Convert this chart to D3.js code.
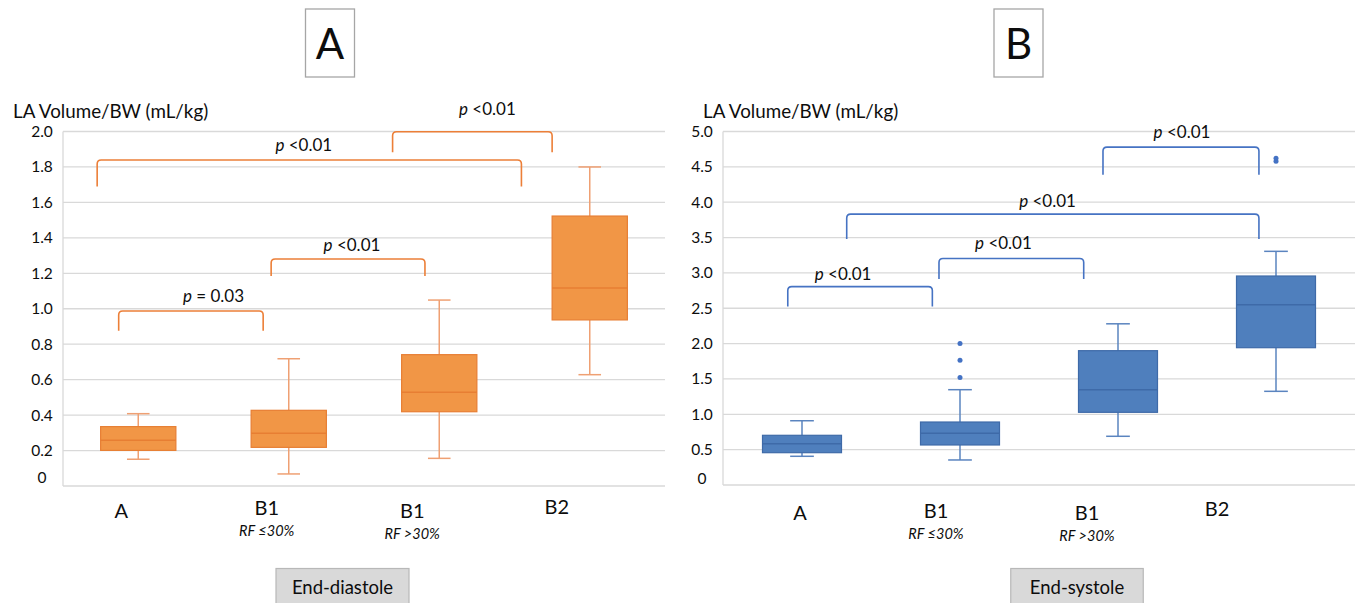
<!DOCTYPE html>
<html>
<head>
<meta charset="utf-8">
<script src="https://cdn.jsdelivr.net/npm/d3@7"></script>
<style>
  html, body { margin: 0; padding: 0; background: #fff; }
  svg { display: block; }
  text { font-family: Lato, "Open Sans", sans-serif; fill: #0d0d0d; }
</style>
</head>
<body>
<svg id="chart" width="1362" height="603"></svg>
<script>
// ---------------- DATA ----------------
const categories = ["A", "B1", "B1", "B2"];
const subLabels = ["", "RF \u226430%", "RF >30%", ""];

const diastoleTicks = [0, 0.2, 0.4, 0.6, 0.8, 1.0, 1.2, 1.4, 1.6, 1.8, 2.0];
const systoleTicks = [0, 0.5, 1.0, 1.5, 2.0, 2.5, 3.0, 3.5, 4.0, 4.5, 5.0];

// End-diastole box statistics (lower whisker, Q1, median, Q3, upper whisker)
const diastoleLow    = [0.151, 0.068, 0.156, 0.628];
const diastoleQ1     = [0.201, 0.218, 0.419, 0.937];
const diastoleMedian = [0.258, 0.297, 0.529, 1.117];
const diastoleQ3     = [0.335, 0.427, 0.741, 1.523];
const diastoleHigh   = [0.408, 0.718, 1.049, 1.800];
const diastoleOutliers = [[], [], [], []];

// End-systole box statistics
const systoleLow    = [0.406, 0.354, 0.689, 1.325];
const systoleQ1     = [0.457, 0.566, 1.028, 1.942];
const systoleMedian = [0.584, 0.731, 1.348, 2.550];
const systoleQ3     = [0.703, 0.891, 1.900, 2.956];
const systoleHigh   = [0.909, 1.348, 2.280, 3.305];
const systoleOutliers = [[], [1.52, 1.765, 2.0], [], [4.58, 4.62]];

// Significance brackets (x in category-index units, y in data units)
const diastoleBracketFrom = [-0.13, 0.883, -0.273, 1.69];
const diastoleBracketTo   = [0.83, 1.905, 2.546, 2.75];
const diastoleBracketTop  = [0.987, 1.281, 1.839, 1.999];
const diastoleBracketFoot = [0.876, 1.185, 1.689, 1.883];
const diastoleBracketP    = ["= 0.03", "<0.01", "<0.01", "<0.01"];
const diastoleBracketTextX = [0.50, 1.42, 1.10, 2.32];
const diastoleBracketTextY = [1.07, 1.36, 1.924, 2.127];

const systoleBracketFrom = [-0.09, 0.867, 0.283, 1.905];
const systoleBracketTo   = [0.825, 1.783, 2.892, 2.892];
const systoleBracketTop  = [2.806, 3.203, 3.831, 4.779];
const systoleBracketFoot = [2.523, 2.915, 3.481, 4.387];
const systoleBracketP    = ["<0.01", "<0.01", "<0.01", "<0.01"];
const systoleBracketTextX = [0.26, 1.275, 1.554, 2.405];
const systoleBracketTextY = [2.98, 3.42, 4.019, 5.0];

// ---------------- DRAWING ----------------
const svg = d3.select("#chart");

function drawPanel(cfg) {
  const g = svg.append("g");
  const x = d3.scaleBand().domain(d3.range(categories.length)).range([cfg.x0, cfg.x1]).padding(0);
  const bw = x.bandwidth();
  const cx = i => x(i) + bw / 2;
  const pos = d3.scaleLinear().domain([0, categories.length - 1]).range([cx(0), cx(categories.length - 1)]);
  const y = d3.scaleLinear().domain([0, cfg.ticks[cfg.ticks.length - 1]]).range([cfg.yBottom, cfg.yTop]);

  // gridlines
  g.selectAll("line.grid").data(cfg.ticks).join("line")
    .attr("x1", cfg.x0).attr("x2", cfg.x1)
    .attr("y1", d => y(d)).attr("y2", d => y(d))
    .attr("stroke", "#d9d9d9").attr("stroke-width", 1.3);
  g.append("line")
    .attr("x1", cfg.x0).attr("x2", cfg.x0)
    .attr("y1", y(0)).attr("y2", y(cfg.ticks[cfg.ticks.length - 1]))
    .attr("stroke", "#d9d9d9").attr("stroke-width", 1.3);

  // tick labels
  g.selectAll("text.tick").data(cfg.ticks).join("text")
    .attr("x", cfg.tickX)
    .attr("y", d => y(d) + 5.5 - (d === 0 ? cfg.zeroShift : 0))
    .attr("text-anchor", "middle")
    .attr("font-size", 15.5)
    .text(d => d === 0 ? "0" : d3.format(".1f")(d));

  // axis title
  g.append("text").attr("x", cfg.titleX).attr("y", 118)
    .attr("font-size", 18.8).text("LA Volume/BW (mL/kg)");

  // boxes
  const cap = bw * 0.15;
  const stats = d3.range(categories.length).map(i => ({
    i, lo: cfg.low[i], q1: cfg.q1[i], med: cfg.median[i], q3: cfg.q3[i], hi: cfg.high[i], out: cfg.outliers[i]
  }));
  const bg = g.selectAll("g.box").data(stats).join("g");
  bg.append("line").attr("x1", d => cx(d.i)).attr("x2", d => cx(d.i))
    .attr("y1", d => y(d.q3)).attr("y2", d => y(d.hi))
    .attr("stroke", cfg.whisker).attr("stroke-width", 1.5);
  bg.append("line").attr("x1", d => cx(d.i)).attr("x2", d => cx(d.i))
    .attr("y1", d => y(d.q1)).attr("y2", d => y(d.lo))
    .attr("stroke", cfg.whisker).attr("stroke-width", 1.5);
  bg.append("line").attr("x1", d => cx(d.i) - cap / 2).attr("x2", d => cx(d.i) + cap / 2)
    .attr("y1", d => y(d.hi)).attr("y2", d => y(d.hi))
    .attr("stroke", cfg.whisker).attr("stroke-width", 1.5);
  bg.append("line").attr("x1", d => cx(d.i) - cap / 2).attr("x2", d => cx(d.i) + cap / 2)
    .attr("y1", d => y(d.lo)).attr("y2", d => y(d.lo))
    .attr("stroke", cfg.whisker).attr("stroke-width", 1.5);
  bg.append("rect")
    .attr("x", d => cx(d.i) - bw * 0.25).attr("width", bw * 0.5)
    .attr("y", d => y(d.q3)).attr("height", d => y(d.q1) - y(d.q3))
    .attr("fill", cfg.fill).attr("stroke", cfg.stroke).attr("stroke-width", 1.2);
  bg.append("line")
    .attr("x1", d => cx(d.i) - bw * 0.25).attr("x2", d => cx(d.i) + bw * 0.25)
    .attr("y1", d => y(d.med)).attr("y2", d => y(d.med))
    .attr("stroke", cfg.stroke).attr("stroke-width", 1.5);
  bg.selectAll("circle").data(d => d.out.map(v => ({ i: d.i, v }))).join("circle")
    .attr("cx", d => cx(d.i)).attr("cy", d => y(d.v)).attr("r", 2.5)
    .attr("fill", cfg.outlier);

  // category labels
  g.selectAll("text.cat").data(categories).join("text")
    .attr("x", (d, i) => cx(i) + cfg.labelShift[i])
    .attr("y", (d, i) => cfg.labelY[i])
    .attr("text-anchor", "middle").attr("font-size", 20).text(d => d);
  g.selectAll("text.sub").data(subLabels).join("text")
    .attr("x", (d, i) => cx(i) + cfg.labelShift[i])
    .attr("y", (d, i) => cfg.labelY[i] + 21)
    .attr("text-anchor", "middle").attr("font-size", 14.5).attr("font-style", "italic")
    .text(d => d);

  // brackets
  const r = 4;
  const brackets = cfg.bFrom.map((f, k) => ({
    x1: pos(f), x2: pos(cfg.bTo[k]), yt: y(cfg.bTop[k]), yf: y(cfg.bFoot[k]),
    p: cfg.bP[k], tx: pos(cfg.bTx[k]), ty: y(cfg.bTy[k])
  }));
  g.selectAll("path.br").data(brackets).join("path")
    .attr("d", b => `M${b.x1},${b.yf} L${b.x1},${b.yt + r} Q${b.x1},${b.yt} ${b.x1 + r},${b.yt} L${b.x2 - r},${b.yt} Q${b.x2},${b.yt} ${b.x2},${b.yt + r} L${b.x2},${b.yf}`)
    .attr("fill", "none").attr("stroke", cfg.bracket).attr("stroke-width", 1.6);
  const pt = g.selectAll("text.p").data(brackets).join("text")
    .attr("x", b => b.tx).attr("y", b => b.ty + 6)
    .attr("text-anchor", "middle").attr("font-size", 17);
  pt.append("tspan").attr("font-style", "italic").text("p");
  pt.append("tspan").text(b => " " + b.p);

  // panel letter box
  g.append("rect").attr("x", cfg.letterX - 24.5).attr("y", 9).attr("width", 49).attr("height", 68)
    .attr("fill", "#fff").attr("stroke", "#a6a6a6").attr("stroke-width", 1.3);
  g.append("text").attr("x", cfg.letterX).attr("y", 59).attr("text-anchor", "middle")
    .attr("font-family", "'Liberation Sans', Arial, sans-serif").attr("font-size", 42)
    .text(cfg.letter);

  // phase label box
  g.append("rect").attr("x", cfg.phaseX - cfg.phaseW / 2).attr("y", 568.5)
    .attr("width", cfg.phaseW).attr("height", 40)
    .attr("fill", "#d9d9d9").attr("stroke", "#b8b8b8").attr("stroke-width", 1.2);
  g.append("text").attr("x", cfg.phaseX).attr("y", 594).attr("text-anchor", "middle")
    .attr("font-size", 18.5).text(cfg.phase);
}

drawPanel({
  x0: 63, x1: 665, yBottom: 486, yTop: 131.5, ticks: diastoleTicks, tickX: 42, zeroShift: 9,
  titleX: 13,
  low: diastoleLow, q1: diastoleQ1, median: diastoleMedian, q3: diastoleQ3, high: diastoleHigh,
  outliers: diastoleOutliers,
  fill: "#F19646", stroke: "#E77E33", whisker: "#EFA073", outlier: "#E77E33", bracket: "#EC7F38",
  labelShift: [-17, -22, -27, -33], labelY: [518, 515, 518, 514],
  bFrom: diastoleBracketFrom, bTo: diastoleBracketTo, bTop: diastoleBracketTop, bFoot: diastoleBracketFoot,
  bP: diastoleBracketP, bTx: diastoleBracketTextX, bTy: diastoleBracketTextY,
  letter: "A", letterX: 330, phase: "End-diastole", phaseX: 342.5, phaseW: 133
});

drawPanel({
  x0: 723, x1: 1355, yBottom: 485, yTop: 131.5, ticks: systoleTicks, tickX: 702, zeroShift: 7,
  titleX: 703,
  low: systoleLow, q1: systoleQ1, median: systoleMedian, q3: systoleQ3, high: systoleHigh,
  outliers: systoleOutliers,
  fill: "#4F7FBD", stroke: "#3E6AA8", whisker: "#5A84BF", outlier: "#4472C4", bracket: "#4673C3",
  labelShift: [-2, -24, -31, -59], labelY: [520, 518, 520, 516],
  bFrom: systoleBracketFrom, bTo: systoleBracketTo, bTop: systoleBracketTop, bFoot: systoleBracketFoot,
  bP: systoleBracketP, bTx: systoleBracketTextX, bTy: systoleBracketTextY,
  letter: "B", letterX: 1018.5, phase: "End-systole", phaseX: 1077, phaseW: 132.5
});
</script>
</body>
</html>
